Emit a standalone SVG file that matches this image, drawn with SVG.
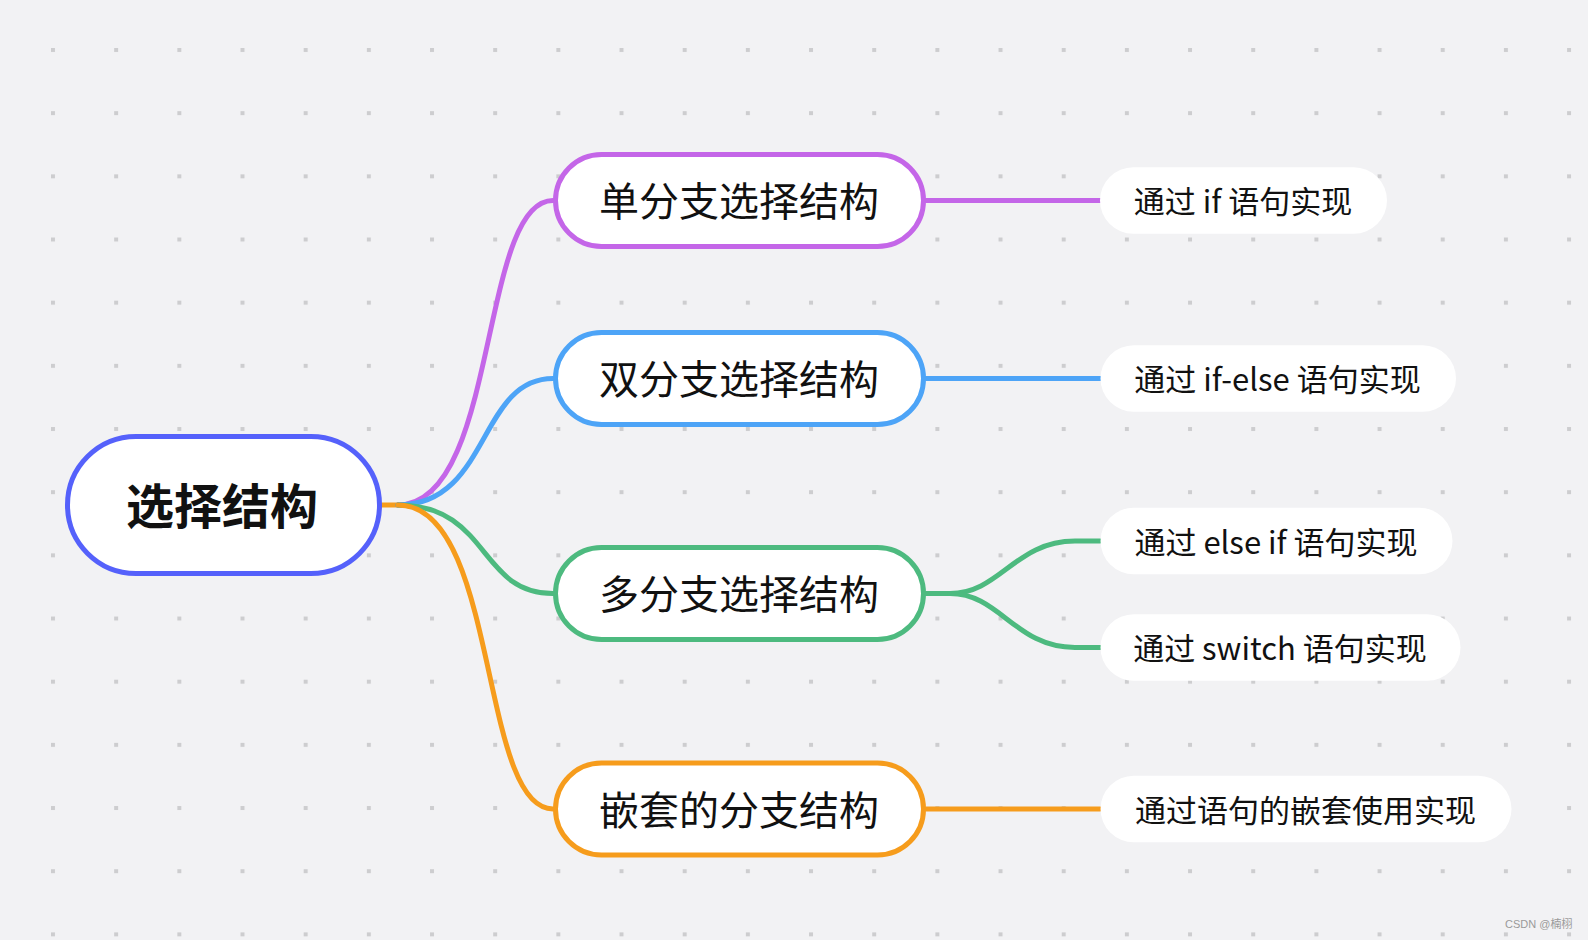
<svg xmlns="http://www.w3.org/2000/svg" width="1588" height="940" viewBox="0 0 1588 940">
  <defs>
    <pattern id="dots" x="51" y="48" width="63.17" height="63.17" patternUnits="userSpaceOnUse">
      <rect width="4" height="4" fill="#cdcdcf"/>
    </pattern>
    <style>
      .bg { fill: #f2f2f4; }
      .t { font-family: "Noto Sans CJK SC", "Noto Sans", sans-serif; fill: #111; text-anchor: middle; dominant-baseline: central; }
      .root-t { font-size: 48px; font-weight: 700; }
      .l1-t { font-size: 40px; }
      .leaf-t { font-size: 31px; }
      .l1 { fill: #fff; stroke-width: 5; }
      .leaf { fill: #fff; }
      .c { fill: none; stroke-width: 5; stroke-linecap: round; }
      .purple { stroke: #c466e8; }
      .blue { stroke: #4da4f7; }
      .green { stroke: #4dba7f; }
      .orange { stroke: #f69c1c; }
      .wm { font-family: "Liberation Sans", "Noto Sans CJK SC", sans-serif; font-size: 11px; fill: #9a9a9a; }
    </style>
  </defs>
  <rect class="bg" x="0" y="0" width="1588" height="940"/>
  <rect x="0" y="0" width="1588" height="940" fill="url(#dots)"/>

  <g id="connectors">
    <path class="c orange" d="M 382 505 L 398 505"/>
    <path class="c purple" d="M 398 505 C 499 505 479 200.5 553 200.5"/>
    <path class="c blue" d="M 398 505 C 490 505 478 378.5 553 378.5"/>
    <path class="c green" d="M 398 505 C 490 505 478 593.5 553 593.5"/>
    <path class="c orange" d="M 398 505 C 499 505 479 809 553 809"/>
    <path class="c purple" d="M 926 200.5 L 1100 200.5"/>
    <path class="c blue" d="M 926 378.5 L 1100 378.5"/>
    <path class="c green" d="M 926 593.5 L 950 593.5 C 1000 593.5 1015 541 1075 541 L 1100 541"/>
    <path class="c green" d="M 950 593.5 C 1000 593.5 1015 647.5 1075 647.5 L 1100 647.5"/>
    <path class="c orange" d="M 926 809 L 1100 809"/>
  </g>

  <g id="root">
    <rect x="67.5" y="436.5" width="312" height="137" rx="68.5" fill="#fff" stroke="#5561fb" stroke-width="5"/>
    <text class="t root-t" x="222" y="503">选择结构</text>
  </g>

  <g id="n1">
    <rect class="l1 purple" x="555.5" y="154.5" width="368" height="92" rx="46"/>
    <text class="t l1-t" x="739" y="199">单分支选择结构</text>
  </g>
  <g id="n2">
    <rect class="l1 blue" x="555.5" y="332.5" width="368" height="92" rx="46"/>
    <text class="t l1-t" x="739" y="377">双分支选择结构</text>
  </g>
  <g id="n3">
    <rect class="l1 green" x="555.5" y="547.5" width="368" height="92" rx="46"/>
    <text class="t l1-t" x="739" y="592">多分支选择结构</text>
  </g>
  <g id="n4">
    <rect class="l1 orange" x="555.5" y="763" width="368" height="92" rx="46"/>
    <text class="t l1-t" x="739" y="807.5">嵌套的分支结构</text>
  </g>

  <g id="leaf1">
    <rect class="leaf" x="1100" y="167.2" width="287" height="66.6" rx="33.3"/>
    <text class="t leaf-t" x="1243" y="199.5">通过 if 语句实现</text>
  </g>
  <g id="leaf2">
    <rect class="leaf" x="1100.5" y="345.2" width="355.5" height="66.6" rx="33.3"/>
    <text class="t leaf-t" x="1277.5" y="377.5">通过 if-else 语句实现</text>
  </g>
  <g id="leaf3">
    <rect class="leaf" x="1100.5" y="507.7" width="352" height="66.6" rx="33.3"/>
    <text class="t leaf-t" x="1276" y="540">通过 else if 语句实现</text>
  </g>
  <g id="leaf4">
    <rect class="leaf" x="1100.5" y="614.2" width="360" height="66.6" rx="33.3"/>
    <text class="t leaf-t" x="1280" y="646.5">通过 switch 语句实现</text>
  </g>
  <g id="leaf5">
    <rect class="leaf" x="1100.5" y="775.7" width="411" height="66.6" rx="33.3"/>
    <text class="t leaf-t" x="1305.5" y="808">通过语句的嵌套使用实现</text>
  </g>

  <text class="wm" x="1505" y="928">CSDN @楠栩</text>
</svg>
